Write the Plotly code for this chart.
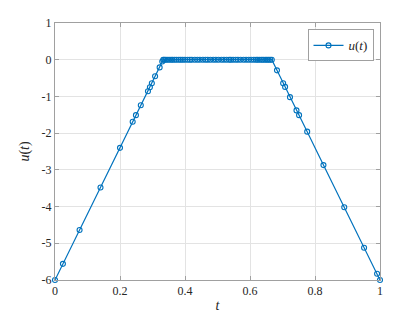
import plotly.graph_objects as go

t_vals = [0.0, 0.0244, 0.0756, 0.140, 0.200, 0.239, 0.249, 0.264, 0.286, 0.292, 0.298, 0.308, 0.322, 0.330,
          0.333, 0.336, 0.340, 0.345, 0.351, 0.357, 0.362, 0.368, 0.374, 0.381, 0.387, 0.393, 0.400, 0.408,
          0.415, 0.421, 0.430, 0.438, 0.446, 0.455, 0.463, 0.470, 0.478, 0.487, 0.495, 0.503, 0.512, 0.520,
          0.528, 0.536, 0.541, 0.548, 0.556, 0.563, 0.571, 0.580, 0.588, 0.596, 0.604, 0.612, 0.619, 0.624,
          0.630, 0.636, 0.641, 0.647, 0.652, 0.657, 0.662, 0.667,
          0.683, 0.702, 0.708, 0.723, 0.743, 0.751, 0.776, 0.826, 0.890, 0.951, 0.991, 1.0]
u_vals = [-6.0, -5.56, -4.64, -3.48, -2.40, -1.69, -1.51, -1.24, -0.86, -0.75, -0.64, -0.45, -0.21, -0.05,
          0, 0, 0, 0, 0, 0, 0, 0, 0, 0, 0, 0, 0, 0,
          0, 0, 0, 0, 0, 0, 0, 0, 0, 0, 0, 0, 0, 0,
          0, 0, 0, 0, 0, 0, 0, 0, 0, 0, 0, 0, 0, 0,
          0, 0, 0, 0, 0, 0, 0, 0,
          -0.29, -0.64, -0.74, -1.02, -1.38, -1.51, -1.96, -2.87, -4.02, -5.12, -5.83, -6.0]

x_ticks = [0, 0.2, 0.4, 0.6, 0.8, 1]
x_tick_labels = ["0", "0.2", "0.4", "0.6", "0.8", "1"]
y_ticks = [-6, -5, -4, -3, -2, -1, 0, 1]
y_tick_labels = ["-6", "-5", "-4", "-3", "-2", "-1", "0", "1"]

color = "#0072BD"
font = "Times New Roman"

fig = go.Figure()
fig.add_trace(go.Scatter(
    x=t_vals, y=u_vals, mode="lines+markers",
    name="<i>u</i>(<i>t</i>)",
    line=dict(color=color, width=1.2),
    marker=dict(symbol="circle-open", size=5, color=color, line=dict(width=1.1, color=color)),
    cliponaxis=False,
))

axis_common = dict(
    showline=True, linecolor="#a0a0a0", linewidth=1, mirror="ticks",
    ticks="inside", ticklen=4, tickcolor="#a0a0a0",
    showgrid=True, gridcolor="#e3e3e3", gridwidth=1,
    zeroline=False, automargin=False,
    tickfont=dict(family=font, size=12, color="#262626"),
)

fig.update_layout(
    width=420, height=315,
    margin=dict(l=55, r=40, t=23, b=35),
    paper_bgcolor="white", plot_bgcolor="white",
    font=dict(family=font),
    showlegend=True,
    legend=dict(x=0.98, y=0.975, xanchor="right", yanchor="top",
                bordercolor="#a0a0a0", borderwidth=1, bgcolor="white",
                font=dict(family=font, size=13, color="#262626"),
                itemwidth=30, tracegroupgap=0),
    xaxis=dict(range=[0, 1], tickvals=x_ticks, ticktext=x_tick_labels,
               title=dict(text="<i>t</i>", font=dict(family=font, size=14, color="#262626"), standoff=2),
               **axis_common),
    yaxis=dict(range=[-6, 1], tickvals=y_ticks, ticktext=y_tick_labels,
               title=dict(text="<i>u</i>(<i>t</i>)", font=dict(family=font, size=14, color="#262626"), standoff=8),
               **axis_common),
)

fig.write_html("out.html")
